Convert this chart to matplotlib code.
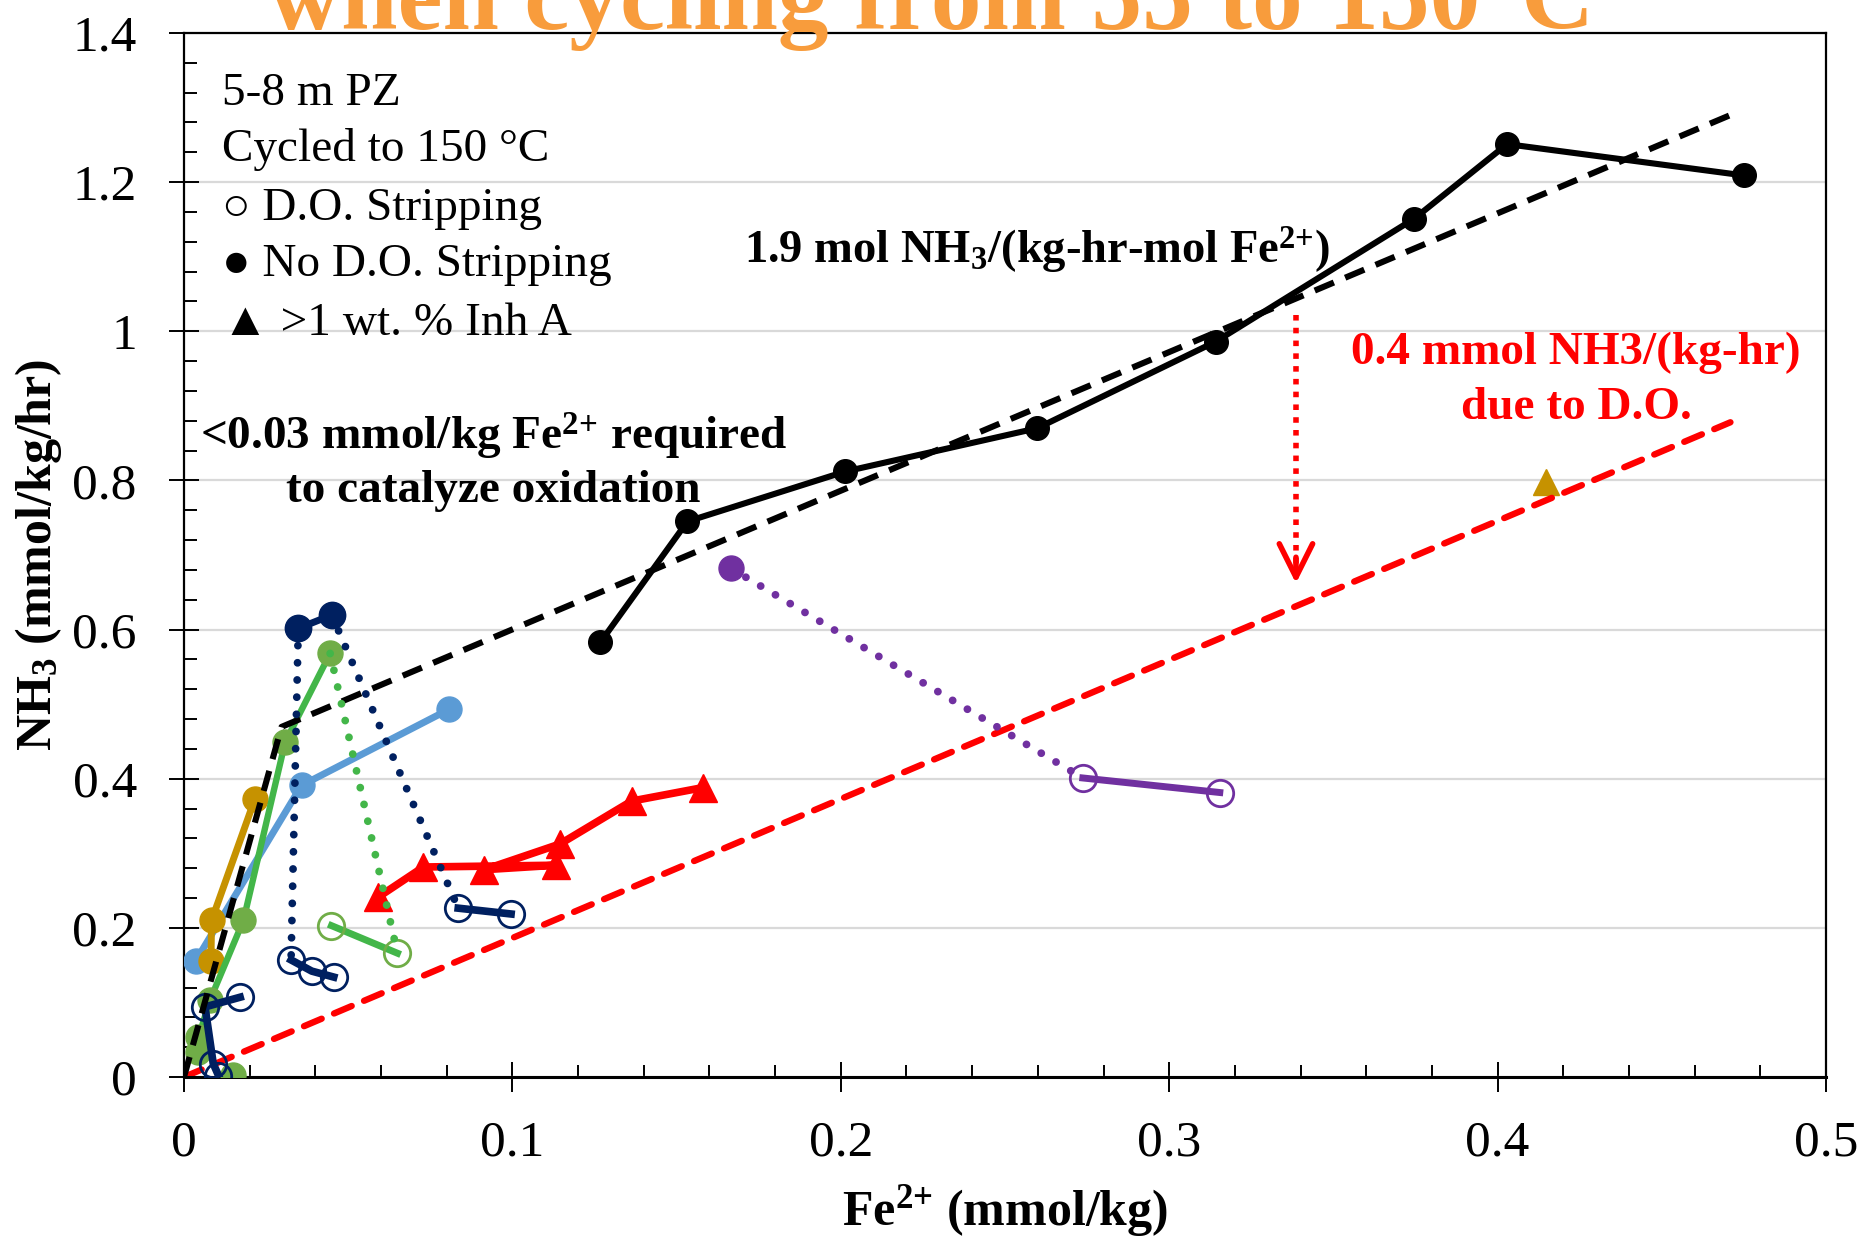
import matplotlib
matplotlib.use('Agg')
import matplotlib.pyplot as plt
from matplotlib.ticker import MultipleLocator, FuncFormatter

plt.rcParams['font.family'] = ['Liberation Serif', 'DejaVu Serif']
plt.rcParams['mathtext.fontset'] = 'custom'
plt.rcParams['mathtext.rm'] = 'Liberation Serif:bold'
plt.rcParams['mathtext.bf'] = 'Liberation Serif:bold'
plt.rcParams['mathtext.it'] = 'Liberation Serif:bold:italic'
plt.rcParams['mathtext.default'] = 'bf'

# ---- data: Fe2+ (mmol/kg) vs NH3 production rate (mmol/kg/hr) ----
# no D.O. stripping, long run (black)
blk_fe = [0.1268, 0.1533, 0.2014, 0.2598, 0.3141, 0.3746, 0.4029, 0.4750]
blk_nh3 = [0.583, 0.745, 0.812, 0.870, 0.986, 1.151, 1.251, 1.209]

# fitted trend lines
fit_fe = [0.0, 0.0297, 0.4709]
fit_nh3 = [0.0, 0.4695, 1.290]
do_fe = [0.0, 0.4709]
do_nh3 = [0.0, 0.878]

# navy campaign
navy_fill_fe = [0.0348, 0.0450]
navy_fill_nh3 = [0.6016, 0.6195]
navy_open1_fe = [0.0326, 0.0389, 0.0456]
navy_open1_nh3 = [0.157, 0.142, 0.134]
navy_open2_fe = [0.0835, 0.0996]
navy_open2_nh3 = [0.2264, 0.2186]
navy_open3_fe = [0.0105, 0.0089, 0.0064, 0.0171]
navy_open3_nh3 = [0.002, 0.018, 0.094, 0.107]

# green campaign
green_fill_fe = [0.0044, 0.0044, 0.0079, 0.0181, 0.0308, 0.0445]
green_fill_nh3 = [0.033, 0.053, 0.103, 0.210, 0.449, 0.568]
green_start_fe = [0.0150]
green_start_nh3 = [0.003]
green_open_fe = [0.0449, 0.0650]
green_open_nh3 = [0.203, 0.166]

# light blue campaign
blue_fe = [0.0036, 0.0358, 0.0807]
blue_nh3 = [0.156, 0.391, 0.493]

# gold campaign
gold_fe = [0.0082, 0.0084, 0.0216]
gold_nh3 = [0.155, 0.210, 0.373]
gold_inh_fe = [0.4147]
gold_inh_nh3 = [0.798]

# purple campaign
purple_fill_fe = [0.1666]
purple_fill_nh3 = [0.682]
purple_open_fe = [0.2737, 0.3154]
purple_open_nh3 = [0.401, 0.3815]

# red, >1 wt% Inh A
red_fe = [0.0592, 0.0729, 0.1133, 0.0914, 0.1145, 0.1363, 0.1579]
red_nh3 = [0.2414, 0.2816, 0.284, 0.278, 0.3125, 0.370, 0.388]

# arrow marking the D.O. contribution
arrow_fe = 0.3386
arrow_top = 1.0225
arrow_tip = 0.662

NAVY = '#002060'
GREEN_M = '#70AD47'
GREEN_L = '#43B649'
BLUE = '#5B9BD5'
GOLD = '#C69200'
PURPLE = '#7030A0'
RED = '#FF0000'
ORANGE = '#F89C3C'

fig = plt.figure(figsize=(18.65, 12.36), dpi=100)
ax = fig.add_axes([0.09866, 0.12864, 0.88043, 0.84466])
ax.set_xlim(0, 0.5)
ax.set_ylim(0, 1.4)

ms = 18
dot = (0, (0.01, 2.2))
dot_lw = 5.6

# trend lines
ax.plot(do_fe, do_nh3, color=RED, lw=4.6, dashes=(3.0, 2.1), dash_capstyle='round', zorder=2.5)

# inhibitor point (beneath the D.O. line)
ax.plot(gold_inh_fe, gold_inh_nh3, ls='none', marker='^', ms=19, color=GOLD, zorder=2.2)

# connectors between stripping / no stripping
ax.plot([navy_fill_fe[0], navy_open1_fe[0]], [navy_fill_nh3[0], navy_open1_nh3[0]],
        color=NAVY, lw=dot_lw, ls=dot, dash_capstyle='round', zorder=4)
ax.plot([navy_fill_fe[1], navy_open2_fe[0]], [navy_fill_nh3[1], navy_open2_nh3[0]],
        color=NAVY, lw=dot_lw, ls=dot, dash_capstyle='round', zorder=4)
ax.plot([green_fill_fe[-1], green_open_fe[1]], [green_fill_nh3[-1], green_open_nh3[1]],
        color=GREEN_L, lw=dot_lw, ls=dot, dash_capstyle='round', zorder=4)
ax.plot([purple_fill_fe[0], purple_open_fe[0]], [purple_fill_nh3[0], purple_open_nh3[0]],
        color=PURPLE, lw=dot_lw, ls=dot, dash_capstyle='round', zorder=4)

# red Inh A series
ax.plot(red_fe, red_nh3, color=RED, lw=5.5, marker='^', ms=20, zorder=3)

# filled-marker series (no D.O. stripping)
ax.plot(blue_fe, blue_nh3, color=BLUE, lw=5, marker='o', ms=ms, zorder=3)
ax.plot(gold_fe, gold_nh3, color=GOLD, lw=5, marker='o', ms=ms, zorder=3.1)
ax.plot(green_fill_fe, green_fill_nh3, color=GREEN_L, lw=4.6, marker='o', ms=ms,
        mfc=GREEN_M, mec=GREEN_M, zorder=3.2)
ax.plot(green_start_fe, green_start_nh3, ls='none', marker='o', ms=ms,
        mfc=GREEN_M, mec=GREEN_M, zorder=3.2)
ax.plot(navy_fill_fe, navy_fill_nh3, color=NAVY, lw=5, marker='o', ms=ms + 1, zorder=3.3)
ax.plot(purple_fill_fe, purple_fill_nh3, ls='none', marker='o', ms=ms, color=PURPLE, zorder=3.3)

# open-marker series (D.O. stripping)
open_kw = dict(marker='o', ms=ms + 1, mfc='none', mew=2.0, zorder=3.4)
ax.plot(navy_open1_fe, navy_open1_nh3, color=NAVY, lw=5.5, **open_kw)
ax.plot(navy_open2_fe, navy_open2_nh3, color=NAVY, lw=5.5, **open_kw)
ax.plot(navy_open3_fe, navy_open3_nh3, color=NAVY, lw=5.5, **open_kw)
ax.plot(green_open_fe, green_open_nh3, color=GREEN_L, lw=5, mec=GREEN_M, **open_kw)
ax.plot(purple_open_fe, purple_open_nh3, color=PURPLE, lw=5, **open_kw)

# black series and its fit
ax.plot(fit_fe, fit_nh3, color='black', lw=4.4, dashes=(3.4, 2.0), zorder=3.6)
ax.plot(blk_fe, blk_nh3, color='black', lw=4.4, marker='o', ms=17, zorder=3.7)

# red dotted arrow
ax.plot([arrow_fe, arrow_fe], [arrow_top, arrow_tip + 0.02], color=RED, lw=4.0,
        ls=(0, (1, 1.3)), zorder=4)
ax.annotate('', xy=(arrow_fe, arrow_tip), xytext=(arrow_fe, arrow_tip + 0.035),
            arrowprops=dict(arrowstyle='->', color=RED, lw=4.0, mutation_scale=60,
                            shrinkA=0, shrinkB=0), zorder=4)

# axes styling
ax.xaxis.set_major_locator(MultipleLocator(0.1))
ax.xaxis.set_minor_locator(MultipleLocator(0.02))
ax.yaxis.set_major_locator(MultipleLocator(0.2))
ax.yaxis.set_minor_locator(MultipleLocator(0.04))
fmt = FuncFormatter(lambda v, p: '%g' % round(v, 3))
ax.xaxis.set_major_formatter(fmt)
ax.yaxis.set_major_formatter(fmt)
ax.tick_params(which='major', direction='inout', length=22, width=1.4, labelsize=37,
               color='black')
ax.tick_params(axis='x', which='major', pad=20)
ax.tick_params(axis='y', which='major', pad=23)
ax.tick_params(which='minor', direction='in', length=9, width=1.4)
ax.yaxis.grid(True, which='major', color='#D9D9D9', lw=1.6)
ax.set_axisbelow(True)
for side in ['left', 'right', 'top']:
    ax.spines[side].set_linewidth(1.6)
ax.spines['bottom'].set_linewidth(2.2)

ax.set_xlabel(r'Fe$^{2{+}}$ (mmol/kg)', fontsize=36, fontweight='bold', va='center')
ax.xaxis.set_label_coords(0.5, -0.1284)
ax.set_ylabel(r'NH$_{3}$ (mmol/kg/hr)', fontsize=36, fontweight='bold', va='center')
ax.yaxis.set_label_coords(-0.0889, 0.5)

# key text
key_lines = ['5-8 m PZ', 'Cycled to 150 °C', '○ D.O. Stripping', '● No D.O. Stripping',
             '▲ >1 wt. % Inh A']
key_y = [1.3040, 1.2279, 1.1497, 1.0736, 0.9953]
for t, yv in zip(key_lines, key_y):
    ax.text(0.0115, yv, t, fontsize=34, ha='left', va='baseline', zorder=6)

# annotations
ax.text(0.2597, 1.109, r'1.9 mol NH$_{3}$/(kg-hr-mol Fe$^{2{+}}$)',
        fontsize=33.5, fontweight='bold', ha='center', va='center', zorder=6)
ax.text(0.4239, 0.971, '0.4 mmol NH3/(kg-hr)', fontsize=34, fontweight='bold',
        color=RED, ha='center', va='center', zorder=6)
ax.text(0.4239, 0.897, 'due to D.O.', fontsize=34, fontweight='bold',
        color=RED, ha='center', va='center', zorder=6)
ax.text(0.0943, 0.859, r'<0.03 mmol/kg Fe$^{2{+}}$ required', fontsize=34,
        fontweight='bold', ha='center', va='center', zorder=6)
ax.text(0.0943, 0.786, 'to catalyze oxidation', fontsize=34, fontweight='bold',
        ha='center', va='center', zorder=6)

# headline running off the top edge
fig.text(0.4992, 1 - 29 / 1236, 'when cycling from 55 to 150°C', fontsize=73,
         fontweight='bold', color=ORANGE, ha='center', va='baseline')

fig.savefig('out.png', dpi=100)
